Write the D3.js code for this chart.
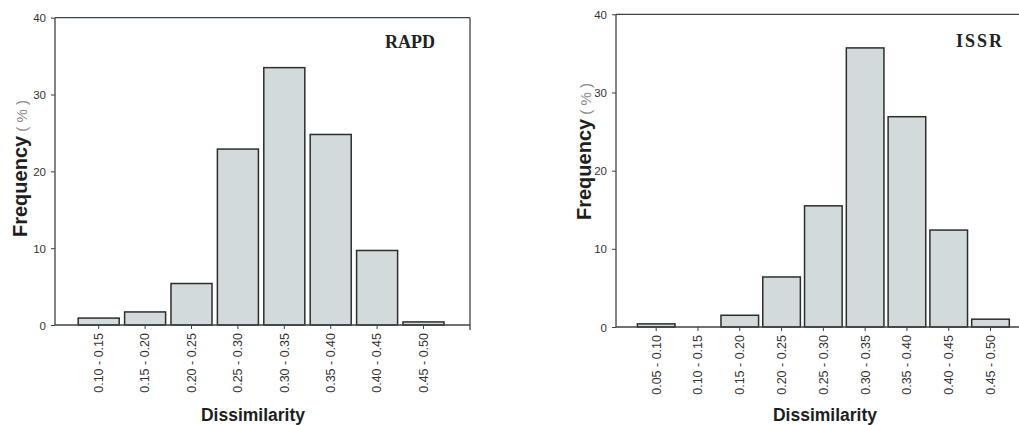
<!DOCTYPE html>
<html lang="en">
    <head>
        <meta charset="utf-8">
        <title>Dissimilarity frequency - RAPD / ISSR</title>
        <script type="text/javascript" src="https://d3js.org/d3.v7.min.js"></script>
        <style type="text/css">
            body { margin: 0; background: #fff; }
            .bar { fill: #d3dadb; stroke: #2b2f2e; stroke-width: 1.5; }
            .frame { fill: none; stroke: #3d4543; stroke-width: 1.3; }
            .tick text { font-family: Arial, "Liberation Sans", sans-serif; fill: #333; }
        </style>
    </head>
    <body>
        <div id="chart"></div>
        <script type="text/javascript">
            // data
            const rapdBins = ["0.10 - 0.15", "0.15 - 0.20", "0.20 - 0.25", "0.25 - 0.30",
                              "0.30 - 0.35", "0.35 - 0.40", "0.40 - 0.45", "0.45 - 0.50"];
            const rapdFreq = [0.9, 1.7, 5.4, 22.9, 33.5, 24.8, 9.7, 0.4];

            const issrBins = ["0.05 - 0.10", "0.10 - 0.15", "0.15 - 0.20", "0.20 - 0.25", "0.25 - 0.30",
                              "0.30 - 0.35", "0.35 - 0.40", "0.40 - 0.45", "0.45 - 0.50"];
            const issrFreq = [0.4, 0, 1.5, 6.4, 15.5, 35.7, 26.9, 12.4, 1.0];

            const yTicks = [0, 10, 20, 30, 40];

            const W = 1019, H = 425;

            const svg = d3.select("#chart")
                .append("svg")
                .attr("width", W)
                .attr("height", H);

            // layout of the two panels
            const panels = [
                {name: "RAPD", bins: rapdBins, freq: rapdFreq,
                 left: 55, right: 470, top: 17.7, bottom: 325,
                 band: [75.5, 446.7], pad: 0.116, closed: true,
                 nameX: 410, nameY: 48, spacing: 0,
                 ylabX: 27, ylabY: 237, titleX: 253},
                {name: "ISSR", bins: issrBins, freq: issrFreq,
                 left: 616, right: 1030, top: 14.3, bottom: 327,
                 band: [635.3, 1011.4], pad: 0.10, closed: false,
                 nameX: 980, nameY: 47, spacing: 2,
                 ylabX: 591, ylabY: 220, titleX: 825}
            ];

            panels.forEach(p => {
                const g = svg.append("g");
                const rows = p.bins.map((b, i) => ({bin: b, value: p.freq[i]}));

                let xScale = d3.scaleBand()
                    .domain(p.bins)
                    .range(p.band)
                    .paddingInner(p.pad)
                    .paddingOuter(p.pad / 2);
                let yScale = d3.scaleLinear()
                    .domain([0, 40])
                    .range([p.bottom, p.top]);

                // bars (empty bins are not drawn)
                g.selectAll(".bar")
                    .data(rows.filter(d => d.value > 0))
                    .enter()
                    .append("rect")
                    .attr("class", "bar")
                    .attr("x", d => xScale(d.bin))
                    .attr("width", xScale.bandwidth())
                    .attr("y", d => yScale(d.value))
                    .attr("height", d => yScale(0) - yScale(d.value));

                // frame (top + optional right side)
                g.append("line").attr("class", "frame")
                    .attr("x1", p.left).attr("x2", p.right)
                    .attr("y1", p.top).attr("y2", p.top);
                if (p.closed) {
                    g.append("line").attr("class", "frame")
                        .attr("x1", p.right).attr("x2", p.right)
                        .attr("y1", p.top).attr("y2", p.bottom + 5);
                }

                // y axis
                const yAxis = d3.axisLeft(yScale).tickValues(yTicks).tickSize(4).tickPadding(5);
                const ya = g.append("g")
                    .attr("class", "axis")
                    .attr("transform", "translate(" + p.left + ",0)")
                    .call(yAxis);
                ya.select(".domain").attr("stroke", "#3d4543").attr("stroke-width", 1.3)
                    .attr("d", "M0," + p.top + "V" + p.bottom);
                ya.selectAll(".tick line").attr("stroke", "#3d4543");
                ya.selectAll(".tick text").style("font-size", "11.5px").attr("dy", "0.35em");

                // x axis
                const xAxis = d3.axisBottom(xScale).tickSize(4).tickPadding(5);
                const xa = g.append("g")
                    .attr("class", "axis")
                    .attr("transform", "translate(0," + p.bottom + ")")
                    .call(xAxis);
                xa.select(".domain").attr("stroke", "#3d4543").attr("stroke-width", 1.3)
                    .attr("d", "M" + p.left + ",0H" + p.right);
                xa.selectAll(".tick line").attr("stroke", "#3d4543");
                xa.selectAll(".tick text")
                    .style("font-size", "12.5px")
                    .attr("transform", "rotate(-90)")
                    .attr("text-anchor", "end")
                    .attr("x", -8)
                    .attr("y", 0)
                    .attr("dy", "0.35em");

                // panel name
                g.append("text")
                    .attr("x", p.nameX)
                    .attr("y", p.nameY)
                    .attr("text-anchor", "middle")
                    .style("font-family", "'Liberation Serif', 'Times New Roman', serif")
                    .style("font-size", "18px")
                    .style("font-weight", "bold")
                    .style("letter-spacing", p.spacing + "px")
                    .style("fill", "#222")
                    .text(p.name);

                // x title
                g.append("text")
                    .attr("x", p.titleX)
                    .attr("y", 421)
                    .attr("text-anchor", "middle")
                    .style("font-family", "Arial, 'Liberation Sans', sans-serif")
                    .style("font-size", "17.5px")
                    .style("font-weight", "bold")
                    .style("fill", "#1e1e1e")
                    .text("Dissimilarity");

                // y title
                const yt = g.append("text")
                    .attr("transform", "translate(" + p.ylabX + "," + p.ylabY + ") rotate(-90)")
                    .style("font-family", "Arial, 'Liberation Sans', sans-serif");
                yt.append("tspan")
                    .style("font-size", "20px")
                    .style("font-weight", "bold")
                    .style("fill", "#1e1e1e")
                    .text("Frequency");
                yt.append("tspan")
                    .style("font-size", "15px")
                    .style("fill", "#8a8a8a")
                    .text(" ( % )");
            });
        </script>
    </body>
</html>
